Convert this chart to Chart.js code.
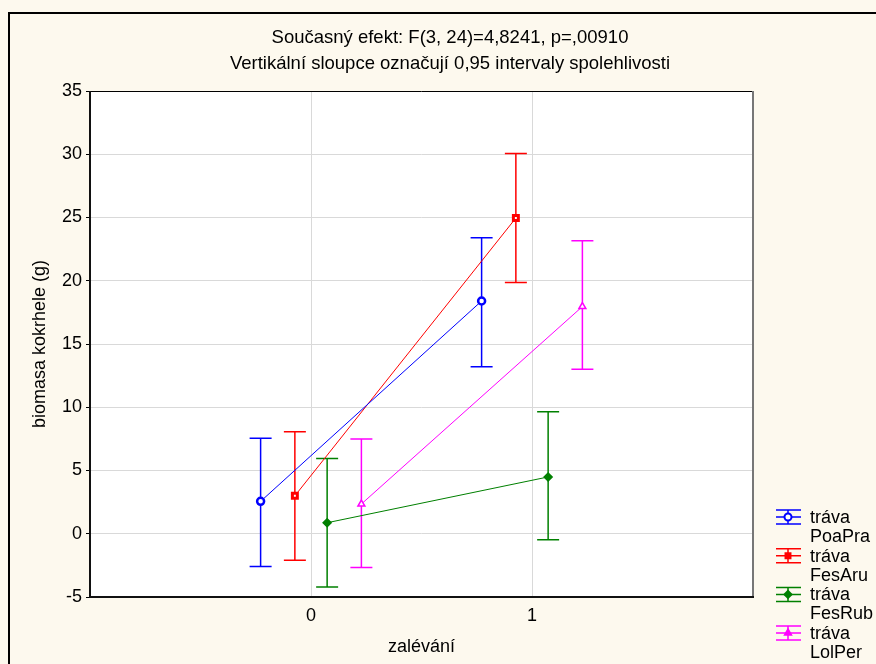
<!DOCTYPE html>
<html>
<head>
<meta charset="utf-8">
<script src="https://cdn.jsdelivr.net/npm/chart.js@4.4.0/dist/chart.umd.min.js"></script>
<style>
  html, body { margin: 0; padding: 0; background: #fdf9ee; }
  #wrap { width: 876px; height: 664px; }
</style>
</head>
<body>
<div id="wrap"><canvas id="chart" width="876" height="664"></canvas></div>
<script>
// ── Data ─────────────────────────────────
const categories = [0, 1];
const factorName = 'tráva';
const seriesLabels = ['PoaPra', 'FesAru', 'FesRub', 'LolPer'];

const meanPoaPra = [2.56, 18.4];
const lowPoaPra = [-2.59, 13.2];
const highPoaPra = [7.55, 23.4];

const meanFesAru = [3.0, 24.96];
const lowFesAru = [-2.1, 19.86];
const highFesAru = [8.06, 30.06];

const meanFesRub = [0.87, 4.49];
const lowFesRub = [-4.2, -0.47];
const highFesRub = [5.94, 9.64];

const meanLolPer = [2.35, 17.96];
const lowLolPer = [-2.67, 13.0];
const highLolPer = [7.5, 23.16];

const yTicks = [-5, 0, 5, 10, 15, 20, 25, 30, 35];
const xTicks = [0, 1];

const titleLines = [
    'Současný efekt: F(3, 24)=4,8241, p=,00910',
    'Vertikální sloupce označují 0,95 intervaly spolehlivosti'
];
const yTitle = 'biomasa kokrhele (g)';
const xTitle = 'zalévání';

// ── Styles ─────────────────────────────────
const colors = ['#0000ff', '#ff0000', '#008000', '#ff00ff'];
const pointStyles = ['circle', 'rect', 'rectRot', 'triangle'];
const pointFills = ['#ffffff', '#ffffff', '#008000', '#ffffff'];
const pointBorders = [2.5, 3, 1.5, 1.5];
const pointSizes = [3.5, 3.5, 4, 4];
const dodge = [-0.228, -0.073, 0.073, 0.228];
const FONT = "'Liberation Sans', Arial, sans-serif";

const means = [meanPoaPra, meanFesAru, meanFesRub, meanLolPer];
const lows = [lowPoaPra, lowFesAru, lowFesRub, lowLolPer];
const highs = [highPoaPra, highFesAru, highFesRub, highLolPer];

Chart.defaults.font.family = FONT;
Chart.defaults.font.size = 18;
Chart.defaults.color = '#000';

const datasets = seriesLabels.map((name, i) => ({
    label: factorName + ' ' + name,
    data: categories.map((c, j) => ({ x: c + dodge[i], y: means[i][j] })),
    lo: lows[i], hi: highs[i],
    borderColor: colors[i], borderWidth: 1,
    showLine: true,
    pointStyle: pointStyles[i], pointRadius: pointSizes[i], pointHoverRadius: pointSizes[i],
    pointBackgroundColor: pointFills[i], pointBorderColor: colors[i],
    pointBorderWidth: pointBorders[i]
}));

// error bars, frame, title, legend
const decor = {
    id: 'decor',
    beforeDraw(chart) {
        const { ctx, chartArea: a } = chart;
        ctx.save();
        ctx.fillStyle = '#fdf9ee';
        ctx.fillRect(0, 0, chart.width, chart.height);
        ctx.strokeStyle = '#000';
        ctx.lineWidth = 2;
        ctx.beginPath();
        ctx.moveTo(9, chart.height); ctx.lineTo(9, 13); ctx.lineTo(chart.width, 13);
        ctx.stroke();
        ctx.fillStyle = '#fff';
        ctx.fillRect(a.left, a.top, a.right - a.left, a.bottom - a.top);
        ctx.restore();
    },
    beforeDatasetsDraw(chart) {
        const { ctx, scales: { x, y } } = chart;
        ctx.save();
        chart.data.datasets.forEach((ds, i) => {
            ctx.strokeStyle = colors[i];
            ctx.lineWidth = 1.5;
            ds.data.forEach((p, j) => {
                const px = x.getPixelForValue(p.x);
                const top = y.getPixelForValue(ds.hi[j]);
                const bot = y.getPixelForValue(ds.lo[j]);
                ctx.beginPath();
                ctx.moveTo(px, top); ctx.lineTo(px, bot);
                ctx.moveTo(px - 11, top); ctx.lineTo(px + 11, top);
                ctx.moveTo(px - 11, bot); ctx.lineTo(px + 11, bot);
                ctx.stroke();
            });
        });
        ctx.restore();
    },
    afterDraw(chart) {
        const { ctx, chartArea: a } = chart;
        ctx.save();
        // plot frame
        ctx.lineWidth = 1; ctx.strokeStyle = '#000';
        ctx.beginPath(); ctx.moveTo(a.left, a.top + 0.5); ctx.lineTo(a.right, a.top + 0.5); ctx.stroke();
        ctx.lineWidth = 2; ctx.strokeStyle = '#777';
        ctx.beginPath(); ctx.moveTo(a.right, a.top); ctx.lineTo(a.right, a.bottom); ctx.stroke();
        ctx.strokeStyle = '#111';
        ctx.beginPath(); ctx.moveTo(a.left, a.top); ctx.lineTo(a.left, a.bottom); ctx.lineTo(a.right + 1, a.bottom); ctx.stroke();

        // title
        ctx.fillStyle = '#000';
        ctx.font = '18.5px ' + FONT;
        ctx.textAlign = 'center';
        ctx.textBaseline = 'middle';
        ctx.fillText(titleLines[0], 450, 38);
        ctx.fillText(titleLines[1], 450, 64);

        // legend
        ctx.font = '18px ' + FONT;
        ctx.textAlign = 'left';
        chart.data.datasets.forEach((ds, i) => {
            const cy = 517 + i * 38.7;
            const cx = 788;
            ctx.strokeStyle = colors[i];
            ctx.lineWidth = 1.5;
            ctx.beginPath();
            ctx.moveTo(776, cy - 7); ctx.lineTo(801, cy - 7);
            ctx.moveTo(776, cy); ctx.lineTo(801, cy);
            ctx.moveTo(776, cy + 7); ctx.lineTo(801, cy + 7);
            ctx.moveTo(cx, cy - 7); ctx.lineTo(cx, cy + 7);
            ctx.stroke();
            ctx.fillStyle = i === 0 ? '#fff' : colors[i];
            ctx.lineWidth = 2;
            Chart.helpers.drawPoint(ctx, { pointStyle: pointStyles[i], radius: 3.5, rotation: 0, borderWidth: 2 }, cx, cy);
            ctx.fillStyle = '#000';
            ctx.fillText(factorName, 810, cy + 1);
            ctx.fillText(seriesLabels[i], 810, cy + 20);
        });
        ctx.restore();
    }
};

new Chart(document.getElementById('chart'), {
    type: 'scatter',
    data: { datasets },
    options: {
        responsive: false,
        animation: false,
        layout: { padding: { top: 91, right: 123, bottom: 0, left: 0 } },
        plugins: {
            legend: { display: false },
            title: { display: false },
            tooltip: { enabled: false }
        },
        scales: {
            x: {
                type: 'linear', min: -1, max: 2,
                afterBuildTicks: s => { s.ticks = xTicks.map(v => ({ value: v })); },
                afterFit: s => { s.height = 67; },
                grid: { color: '#d9d9d9', drawTicks: false },
                border: { display: false },
                ticks: { padding: 8, font: { size: 18 } },
                title: { display: true, text: xTitle, font: { size: 18 }, padding: { top: 0, bottom: 6 } }
            },
            y: {
                type: 'linear', min: -5, max: 35,
                afterBuildTicks: s => { s.ticks = yTicks.map(v => ({ value: v })); },
                afterFit: s => { s.width = 90; },
                grid: { color: '#d9d9d9', tickColor: '#000', tickLength: 4 },
                border: { display: false },
                ticks: { padding: 4, font: { size: 18 } },
                title: { display: true, text: yTitle, font: { size: 18 }, padding: { top: 29, bottom: 0 } }
            }
        }
    },
    plugins: [decor]
});
</script>
</body>
</html>
